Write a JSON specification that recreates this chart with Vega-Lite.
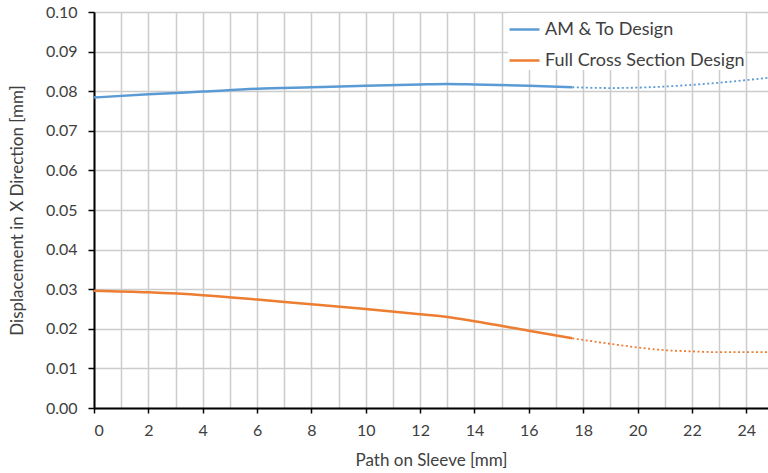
{
  "$schema": "https://vega.github.io/schema/vega-lite/v6.json",
  "width": 674,
  "height": 396,
  "autosize": {"type": "none"},
  "padding": {"left": 94, "top": 12, "right": 0, "bottom": 65},
  "background": "white",
  "config": {"view": {"stroke": null}, "font": "Lato"},
  "data": {"values": [
    {"design": "AM & To Design", "part": "solid", "x": 0, "y": 0.0784},
    {"design": "AM & To Design", "part": "solid", "x": 2, "y": 0.0792},
    {"design": "AM & To Design", "part": "solid", "x": 4, "y": 0.0799},
    {"design": "AM & To Design", "part": "solid", "x": 6, "y": 0.0806},
    {"design": "AM & To Design", "part": "solid", "x": 8, "y": 0.0810},
    {"design": "AM & To Design", "part": "solid", "x": 10, "y": 0.0814},
    {"design": "AM & To Design", "part": "solid", "x": 12, "y": 0.0817},
    {"design": "AM & To Design", "part": "solid", "x": 13, "y": 0.0818},
    {"design": "AM & To Design", "part": "solid", "x": 14, "y": 0.0817},
    {"design": "AM & To Design", "part": "solid", "x": 16, "y": 0.0814},
    {"design": "AM & To Design", "part": "solid", "x": 17.6, "y": 0.0810},
    {"design": "AM & To Design", "part": "dotted", "x": 17.6, "y": 0.0810},
    {"design": "AM & To Design", "part": "dotted", "x": 19, "y": 0.0808},
    {"design": "AM & To Design", "part": "dotted", "x": 20, "y": 0.0809},
    {"design": "AM & To Design", "part": "dotted", "x": 22, "y": 0.0816},
    {"design": "AM & To Design", "part": "dotted", "x": 24, "y": 0.0828},
    {"design": "AM & To Design", "part": "dotted", "x": 24.8, "y": 0.0834},
    {"design": "Full Cross Section Design", "part": "solid", "x": 0, "y": 0.0296},
    {"design": "Full Cross Section Design", "part": "solid", "x": 2, "y": 0.0292},
    {"design": "Full Cross Section Design", "part": "solid", "x": 4, "y": 0.0285},
    {"design": "Full Cross Section Design", "part": "solid", "x": 6, "y": 0.0274},
    {"design": "Full Cross Section Design", "part": "solid", "x": 8, "y": 0.0262},
    {"design": "Full Cross Section Design", "part": "solid", "x": 10, "y": 0.0250},
    {"design": "Full Cross Section Design", "part": "solid", "x": 12, "y": 0.0237},
    {"design": "Full Cross Section Design", "part": "solid", "x": 13, "y": 0.0230},
    {"design": "Full Cross Section Design", "part": "solid", "x": 14, "y": 0.0219},
    {"design": "Full Cross Section Design", "part": "solid", "x": 16, "y": 0.0195},
    {"design": "Full Cross Section Design", "part": "solid", "x": 17.6, "y": 0.0176},
    {"design": "Full Cross Section Design", "part": "dotted", "x": 17.6, "y": 0.0176},
    {"design": "Full Cross Section Design", "part": "dotted", "x": 19, "y": 0.0162},
    {"design": "Full Cross Section Design", "part": "dotted", "x": 20, "y": 0.0153},
    {"design": "Full Cross Section Design", "part": "dotted", "x": 21, "y": 0.0146},
    {"design": "Full Cross Section Design", "part": "dotted", "x": 22, "y": 0.0143},
    {"design": "Full Cross Section Design", "part": "dotted", "x": 23, "y": 0.0141},
    {"design": "Full Cross Section Design", "part": "dotted", "x": 24.8, "y": 0.0141}
  ]},
  "encoding": {
    "x": {
      "field": "x", "type": "quantitative",
      "scale": {"domain": [0, 24.8], "nice": false, "zero": false},
      "axis": {
        "title": "Path on Sleeve [mm]",
        "values": [0,1,2,3,4,5,6,7,8,9,10,11,12,13,14,15,16,17,18,19,20,21,22,23,24],
        "labelExpr": "datum.value % 2 == 0 ? datum.label : ''",
        "tickOpacity": {"condition": {"test": "datum.value % 2 == 0", "value": 1}, "value": 0},
        "grid": true, "gridColor": "#cccccc", "gridWidth": 1.5,
        "domainColor": "#000000", "domainWidth": 2,
        "tickColor": "#000000", "tickWidth": 1.5, "tickSize": 5,
        "labelFontSize": 16, "labelColor": "#404040", "labelPadding": 9,
        "titleFontSize": 17, "titleColor": "#404040", "titleFontWeight": "normal", "titlePadding": 14
      }
    },
    "y": {
      "field": "y", "type": "quantitative",
      "scale": {"domain": [0, 0.1], "nice": false},
      "axis": {
        "title": "Displacement in X Direction [mm]",
        "values": [0, 0.01, 0.02, 0.03, 0.04, 0.05, 0.06, 0.07, 0.08, 0.09, 0.1],
        "format": ".2f",
        "grid": true, "gridColor": "#cccccc", "gridWidth": 1.5,
        "domainColor": "#000000", "domainWidth": 2,
        "tickColor": "#000000", "tickWidth": 1.5, "tickSize": 6,
        "labelFontSize": 16, "labelColor": "#404040", "labelPadding": 11,
        "titleFontSize": 17, "titleColor": "#404040", "titleFontWeight": "normal", "titlePadding": 19
      }
    },
    "color": {
      "field": "design", "type": "nominal",
      "scale": {"domain": ["AM & To Design", "Full Cross Section Design"], "range": ["#5B9BD5", "#ED7D31"]}
    }
  },
  "layer": [
    {
      "transform": [{"filter": "datum.part == 'solid'"}],
      "mark": {"type": "line", "interpolate": "monotone", "strokeWidth": 2.5},
      "encoding": {
        "color": {
          "field": "design", "type": "nominal",
          "scale": {"domain": ["AM & To Design", "Full Cross Section Design"], "range": ["#5B9BD5", "#ED7D31"]},
          "legend": {
            "title": null, "orient": "none", "legendX": 414, "legendY": 1,
            "fillColor": "white", "padding": 0,
            "symbolType": "stroke", "symbolSize": 900, "symbolStrokeWidth": 2.5,
            "labelFontSize": 18, "labelColor": "#404040", "labelOffset": 4,
            "labelLimit": 400, "rowPadding": 5
          }
        }
      }
    },
    {
      "transform": [{"filter": "datum.part == 'dotted'"}],
      "mark": {"type": "line", "interpolate": "monotone", "strokeWidth": 1.8, "strokeDash": [2, 2.5]},
      "encoding": {
        "color": {"field": "design", "type": "nominal", "legend": null}
      }
    }
  ]
}
